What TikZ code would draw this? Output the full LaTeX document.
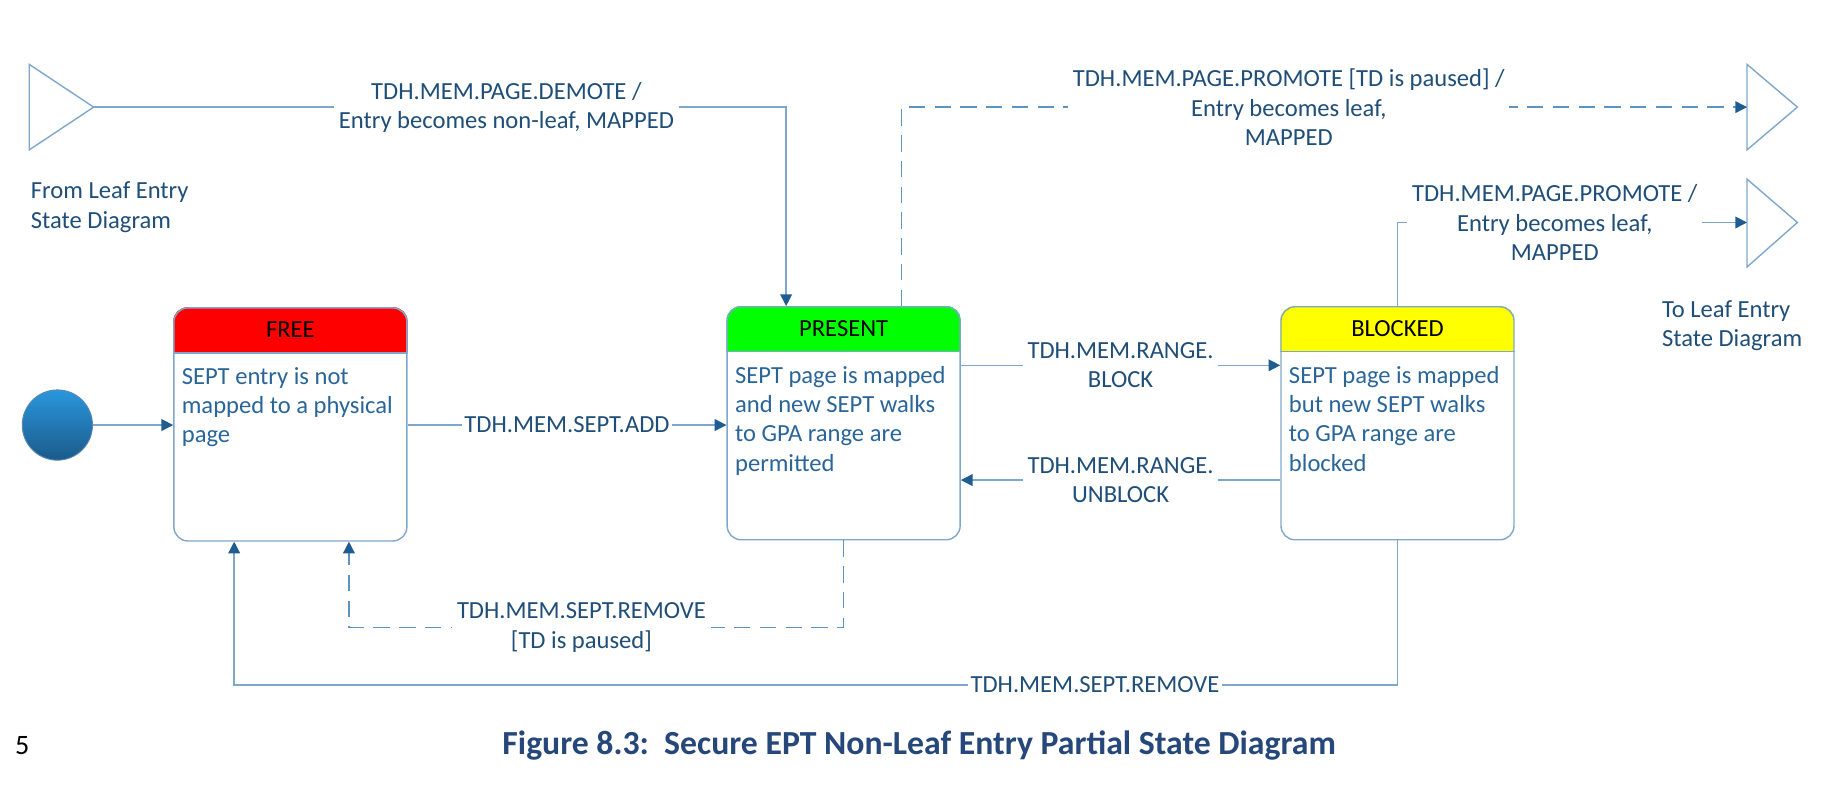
\documentclass[tikz,border=0pt]{standalone}
\usepackage{fontspec}
\setmainfont{Carlito}
\usetikzlibrary{arrows.meta,calc,backgrounds}
\definecolor{ln}{HTML}{7FA7CC}
\definecolor{dl}{HTML}{5B93C4}
\definecolor{ah}{HTML}{1F5C8F}
\definecolor{tx}{HTML}{1F4E79}
\definecolor{btx}{HTML}{2A6599}
\definecolor{capc}{HTML}{26477A}
\definecolor{hred}{HTML}{FF0000}
\definecolor{hgreen}{HTML}{00FF00}
\definecolor{hyellow}{HTML}{FFFF00}
\definecolor{ctop}{HTML}{2A97DD}
\definecolor{cbot}{HTML}{1B5A8A}
\begin{document}
\begin{tikzpicture}[x=0.5pt,y=-0.5pt,
  every node/.append style={font=\fontsize{10.5}{12.5}\selectfont, text=tx},
  statebox/.style={draw=ln, line width=0.6pt, rounded corners=6pt, minimum width=99.5pt, minimum height=99.5pt, inner sep=0},
  hdr/.style={text=black, inner sep=0},
  body/.style={anchor=north west, align=left, inner sep=0, text=btx},
  lbl/.style={fill=white, align=center, inner sep=2pt, text=tx},
  plain/.style={align=center, inner sep=0, text=tx},
  conn/.style={draw=ln, line width=0.6pt, -{Triangle[length=5pt,width=5pt,color=ah]}},
  seg/.style={draw=ln, line width=0.6pt},
  dsh/.style={draw=dl, dash pattern=on 7pt off 4pt},
  tri/.style={draw=ln, line width=0.6pt, line join=miter},
]
\useasboundingbox (0,0) rectangle (1568,672);

% level coordinates
\coordinate (yadd) at (0,363);
\coordinate (yblk) at (0,312);
\coordinate (yunb) at (0,410);
\coordinate (yrem1) at (0,536);
\coordinate (yrem2) at (0,585);

% interface triangles
\draw[tri] (25,55) -- (80,91.5) -- (25,128) -- cycle;
\coordinate (lt) at (80,91.5);
\draw[tri] (1492,55) -- (1535,91.5) -- (1492,128) -- cycle;
\coordinate (rt1) at (1492,91.5);
\draw[tri] (1492,153) -- (1535,190) -- (1492,228) -- cycle;
\coordinate (rt2) at (1492,190);

\node[plain, anchor=west, align=left] (from) at (26,177) {From Leaf Entry\\State Diagram};
\node[plain, anchor=west, align=left] (to) at (1419,278) {To Leaf Entry\\State Diagram};

% initial state
\node[circle, minimum size=30pt, inner sep=0, top color=ctop, bottom color=cbot, draw=ln!60!cbot, line width=0.4pt] (init) at (49,363) {};

% states
\node[statebox] (free) at (248,362.5) {};
\node[statebox] (present) at (720.5,361.5) {};
\node[statebox] (blocked) at (1193.5,361.5) {};

\begin{scope}[on background layer]
\foreach \n/\c in {free/hred, present/hgreen, blocked/hyellow} {
  \begin{scope}
    \clip[rounded corners=6pt] (\n.south west) rectangle (\n.north east);
    \fill[\c] (\n.north west) rectangle ($(\n.north east)+(0,39)$);
  \end{scope}
}
\end{scope}
\foreach \n in {free, present, blocked} {
  \draw[seg] ($(\n.north west)+(0,39)$) -- ($(\n.north east)+(0,39)$);
}

\node[hdr] (free-h) at ($(free.north)+(0,19.5)$) {FREE};
\node[hdr] (present-h) at ($(present.north)+(0,19.5)$) {PRESENT};
\node[hdr] (blocked-h) at ($(blocked.north)+(0,19.5)$) {BLOCKED};

\node[body] (free-b) at ($(free.north west)+(7,51)$) {SEPT entry is not\\mapped to a physical\\page};
\node[body] (present-b) at ($(present.north west)+(7,51)$) {SEPT page is mapped\\and new SEPT walks\\to GPA range are\\permitted};
\node[body] (blocked-b) at ($(blocked.north west)+(7,51)$) {SEPT page is mapped\\but new SEPT walks\\to GPA range are\\blocked};

% transitions
\draw[conn] (init) -- (free.west |- init);
\draw[conn] (free.east |- yadd) -- node[lbl, inner sep=1pt] {TDH.MEM.SEPT.ADD} (present.west |- yadd);
\draw[conn] (present.east |- yblk) -- node[lbl] {TDH.MEM.RANGE.\\BLOCK} (blocked.west |- yblk);
\draw[conn] (blocked.west |- yunb) -- node[lbl] {TDH.MEM.RANGE.\\UNBLOCK} (present.east |- yunb);

\draw[conn] (lt) -| node[lbl, pos=0.298] {TDH.MEM.PAGE.DEMOTE /\\Entry becomes non-leaf, MAPPED} ($(present.north west)+(51,0)$);

\draw[conn, dsh] ($(present.north)+(49.5,0)$) |- node[lbl, pos=0.729] {TDH.MEM.PAGE.PROMOTE [TD is paused] /\\Entry becomes leaf,\\MAPPED} (rt1);

\draw[conn] (blocked.north) |- node[lbl, pos=0.725] {TDH.MEM.PAGE.PROMOTE /\\Entry becomes leaf,\\MAPPED} (rt2);

\draw[conn, dsh] (present.south) -- (present.south |- yrem1) -| node[lbl, pos=0.265] {TDH.MEM.SEPT.REMOVE\\{[TD is paused]}} ($(free.south)+(50,0)$);

\draw[conn] (blocked.south) -- (blocked.south |- yrem2) -| node[lbl, pos=0.13, inner sep=1pt] {TDH.MEM.SEPT.REMOVE} ($(free.south)+(-48,0)$);

% caption
\node[text=black, font=\fontsize{12}{14}\selectfont, inner sep=0] (num) at (19,637) {5};
\node[text=capc, font=\bfseries\fontsize{14.4}{16}\selectfont, inner sep=0] (caption) at (785,637) {Figure 8.3:\ \ Secure EPT Non-Leaf Entry Partial State Diagram};
\end{tikzpicture}
\end{document}
